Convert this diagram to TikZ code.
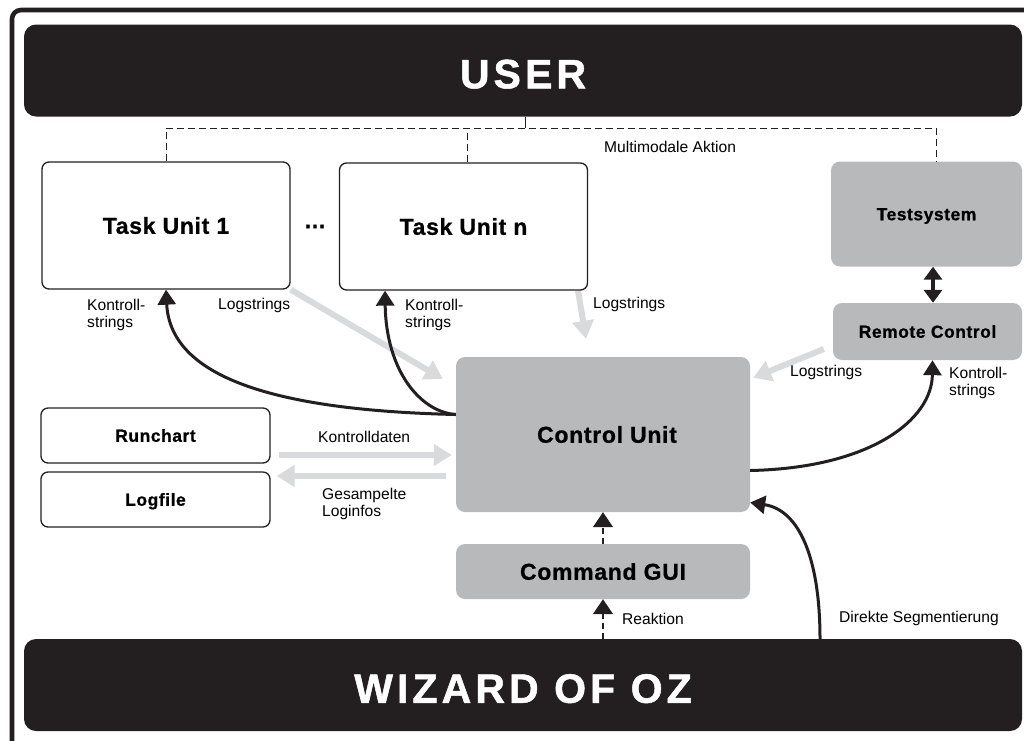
\documentclass[tikz,border=0pt]{standalone}
\usepackage{fontspec}
\setmainfont{Liberation Sans}
\newfontfamily\barfont{Liberation Sans Bold}[LetterSpace=10,FakeBold=1.2]
\newfontfamily\headfont{Liberation Sans Bold}[LetterSpace=3,FakeBold=0.8]
\usetikzlibrary{arrows.meta}
\definecolor{barblack}{HTML}{231F20}
\definecolor{boxgray}{HTML}{B8B9BB}
\definecolor{flowgray}{HTML}{D9DADB}
\pgfdeclarelayer{bg}
\pgfsetlayers{bg,main}
\tikzset{
  bar/.style={fill=barblack, rounded corners=12pt, minimum width=998pt,
    minimum height=92pt, inner sep=0pt, text=white,
    font=\barfont\fontsize{41}{44}\selectfont,
    text height=35.5pt, text depth=0pt},
  whitebox/.style={draw=barblack, line width=1.3pt, fill=white,
    rounded corners=7pt, inner sep=0pt,
    font=\headfont\fontsize{23}{26}\selectfont,
    text height=16.5pt, text depth=0pt},
  whitesmall/.style={whitebox, font=\headfont\fontsize{17.5}{20}\selectfont,
    text height=12.5pt},
  graybox/.style={fill=boxgray, rounded corners=9pt, inner sep=0pt,
    font=\headfont\fontsize{23}{26}\selectfont,
    text height=16.5pt, text depth=0pt},
  graysmall/.style={graybox, font=\headfont\fontsize{17.5}{20}\selectfont,
    text height=12.5pt},
  lbl/.style={font=\fontsize{15.6}{17}\selectfont, inner sep=0pt, align=left},
  flow/.style={draw=flowgray, line width=6pt, -{Triangle[length=18pt,width=21pt]}},
  ctrl/.style={draw=barblack, line width=3pt, -{Triangle[length=15pt,width=18pt]}},
  ctrlboth/.style={draw=barblack, line width=4pt,
    {Triangle[length=13pt,width=18pt]}-{Triangle[length=13pt,width=18pt]}},
  link/.style={draw=barblack, line width=1pt, dash pattern=on 7pt off 4pt},
  trigger/.style={draw=barblack, line width=1.5pt, dash pattern=on 6pt off 4pt,
    -{Triangle[length=15pt,width=20pt]}},
}
\begin{document}
\begin{tikzpicture}[x=1pt,y=-1pt]
\useasboundingbox (0,0) rectangle (1024,740);
\clip (0,0) rectangle (1024,740);

% outer frame, open to the right and bottom
\draw[barblack, line width=4.6pt, rounded corners=9pt]
  (12,760) -- (12,10) -- (1040,10);

% actors
\node[bar] (user) at (523,70.5) {USER};
\node[bar] (wizard) at (523,685) {WIZARD OF OZ};

% components
\node[whitebox, minimum width=248pt, minimum height=127pt] (tu1) at (166,225.5) {Task Unit 1};
\node[font=\headfont\fontsize{23}{26}\selectfont, inner sep=0pt] (dots) at (315,226.5) {...};
\node[whitebox, minimum width=248pt, minimum height=127pt] (tun) at (463.5,226.5) {Task Unit n};
\node[graysmall, minimum width=191pt, minimum height=105pt] (testsys) at (926.5,214) {Testsystem};
\node[graysmall, minimum width=189pt, minimum height=57pt] (remote) at (927.5,331.5) {Remote Control};
\node[graybox, minimum width=294pt, minimum height=155pt] (control) at (603,434.5) {\hspace*{8pt}Control Unit};
\node[graybox, minimum width=294pt, minimum height=55pt] (cmd) at (603,571.5) {Command GUI};
\node[whitesmall, minimum width=229pt, minimum height=55pt] (runchart) at (155.5,435.5) {Runchart};
\node[whitesmall, minimum width=229pt, minimum height=55pt] (logfile) at (155.5,499.5) {Logfile};

% multimodal action from the user
\coordinate (split) at (525,128);
\draw[barblack, line width=1pt] (user.south -| split) -- (split);
\draw[link] (tu1.north) -- (tu1.north |- split) -- ([xshift=9.5pt]testsys.north |- split)
  -- ([xshift=9.5pt]testsys.north);
\draw[link] ([xshift=3.5pt]tun.north) -- ([xshift=3.5pt]tun.north |- split);

\begin{pgfonlayer}{bg}
% log strings and data flows
\draw[flow] (tu1.south east) -- ([xshift=-13pt,yshift=55.5pt]control.west);
\draw[flow] ([xshift=114.5pt]tun.south) -- ([xshift=-17pt,yshift=18pt]control.north);
\draw[flow] ([xshift=-9pt,yshift=-17.5pt]remote.west) -- ([xshift=3pt,yshift=-21pt]control.north east);
\draw[flow] ([xshift=8pt,yshift=-19.5pt]runchart.east) -- ([xshift=-4pt,yshift=-20.5pt]control.west);
\draw[flow] ([xshift=-10pt,yshift=-41.5pt]control.west) -- ([xshift=6pt,yshift=23.5pt]logfile.east);
\end{pgfonlayer}

% control strings
\draw[ctrl] ([yshift=20pt]control.west) .. controls (260,410) and (170,372) .. (tu1.south);
\draw[ctrl] ([yshift=20pt]control.west) .. controls (420,412) and (386,370) .. ([xshift=-78.5pt]tun.south);
\draw[ctrl] ([yshift=-36pt]control.east) .. controls (870,468) and (932,420) .. ([xshift=5pt]remote.south);
\draw[ctrlboth] ([xshift=6.5pt]testsys.south) -- ([xshift=5.5pt]remote.north);

% wizard interventions
\draw[ctrl] ([xshift=297pt]wizard.north) .. controls (820,560) and (800,510) .. ([yshift=-68pt]control.east);
\draw[trigger] (wizard.north -| cmd.south) -- (cmd.south);
\draw[trigger] (cmd.north) -- (control.south);

% labels
\node[lbl, anchor=west] (lmulti) at (604,147) {Multimodale Aktion};
\node[lbl, anchor=north west] (lk1) at (87,299) {Kontroll-\\strings};
\node[lbl, anchor=west] (ll1) at (218,305) {Logstrings};
\node[lbl, anchor=north west] (lkn) at (405,299) {Kontroll-\\strings};
\node[lbl, anchor=west] (lln) at (593,304) {Logstrings};
\node[lbl, anchor=west] (llr) at (790,372) {Logstrings};
\node[lbl, anchor=north west] (lkr) at (949,367) {Kontroll-\\strings};
\node[lbl, anchor=west] (ldat) at (318,437) {Kontrolldaten};
\node[lbl, anchor=north west] (linfo) at (322,488) {Gesampelte\\Loginfos};
\node[lbl, anchor=west] (lreak) at (622,619) {Reaktion};
\node[lbl, anchor=west] (lseg) at (839,618) {Direkte Segmentierung};
\end{tikzpicture}
\end{document}
